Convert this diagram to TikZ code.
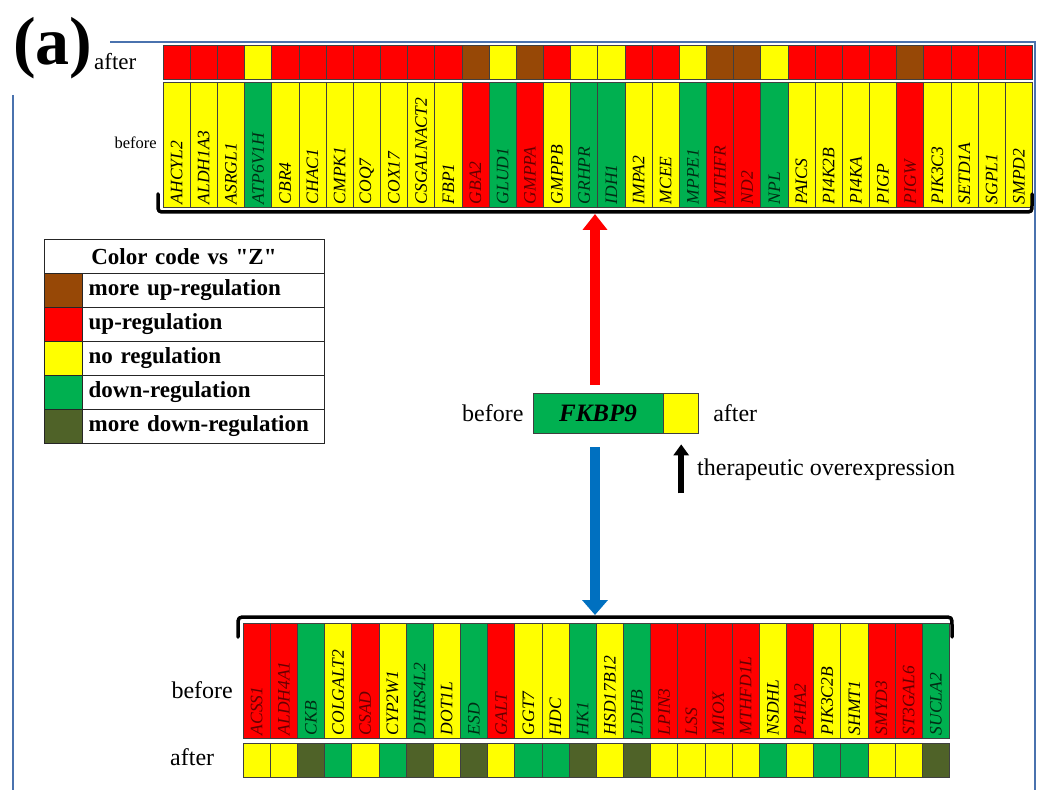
\documentclass[tikz,border=0pt]{standalone}
\usepackage{fontspec}
\setmainfont{Liberation Serif}
\usetikzlibrary{arrows.meta, positioning}
\definecolor{upred}{HTML}{FF0000}
\definecolor{moreupbrown}{HTML}{974806}
\definecolor{noyellow}{HTML}{FFFF00}
\definecolor{downgreen}{HTML}{00B050}
\definecolor{moredownolive}{HTML}{4F6228}
\definecolor{frameblue}{HTML}{4A72AE}
\definecolor{arrowblue}{HTML}{0070C0}

\begin{document}
\begin{tikzpicture}[x=1pt, y=-1pt,
            cell/.style = {rectangle, draw=black!75, line width=0.7pt, minimum width=27.17pt, inner sep=0pt},
            beforetop/.style = {cell, minimum height=125pt},
            beforebot/.style = {cell, minimum height=115pt},
            aftercell/.style = {cell, minimum height=34pt},
            moreupreg/.style = {fill=moreupbrown, text=moreupbrown!50!black},
            upreg/.style = {fill=upred, text=upred!40!black},
            noreg/.style = {fill=noyellow, text=black},
            downreg/.style = {fill=downgreen, text=downgreen!25!black},
            moredownreg/.style = {fill=moredownolive, text=black},
            gene/.style = {rotate=90, anchor=west, inner sep=0pt, font=\fontsize{17.5}{17.5}\selectfont\itshape},
            plain/.style = {inner sep=0pt, font=\fontsize{24}{24}\selectfont},
            swatch/.style = {cell, draw=black!85, minimum width=38pt, minimum height=34pt},
            legendtext/.style = {rectangle, draw=black!85, line width=0.7pt, minimum width=242pt, minimum height=34pt,
                inner sep=6pt, text width=230pt, align=left, font=\bfseries\fontsize{23}{23}\selectfont},
            bracket/.style = {line width=3.5pt, line cap=round, line join=round},
            frameline/.style = {draw=frameblue, line width=2.5pt},
            ]
            % frame
            \draw[frameline] (110,42) -- (1035,42) -- (1035,790);
            \draw[frameline] (13,95) -- (13,790);
            \useasboundingbox (0,0) rectangle (1042,778);

            \node[anchor=base west, inner sep=0pt, font=\bfseries\fontsize{68}{68}\selectfont] (panel) at (13,65) {(a)};
            \node[plain, anchor=base west, font=\fontsize{23}{23}\selectfont] (topafter) at (94,70) {after};
            \node[plain, anchor=east, font=\fontsize{16.5}{16.5}\selectfont] (topbefore) at (157,143) {before};

            % genes above FKBP9
            \foreach \g/\b/\a [count=\i] in {AHCYL2/noreg/upreg, ALDH1A3/noreg/upreg, ASRGL1/noreg/upreg,
                ATP6V1H/downreg/noreg, CBR4/noreg/upreg, CHAC1/noreg/upreg, CMPK1/noreg/upreg, COQ7/noreg/upreg,
                COX17/noreg/upreg, CSGALNACT2/noreg/upreg, FBP1/noreg/upreg, GBA2/upreg/moreupreg,
                GLUD1/downreg/noreg, GMPPA/upreg/moreupreg, GMPPB/noreg/upreg, GRHPR/downreg/noreg,
                IDH1/downreg/noreg, IMPA2/noreg/upreg, MCEE/noreg/upreg, MPPE1/downreg/noreg,
                MTHFR/upreg/moreupreg, ND2/upreg/moreupreg, NPL/downreg/noreg, PAICS/noreg/upreg,
                PI4K2B/noreg/upreg, PI4KA/noreg/upreg, PIGP/noreg/upreg, PIGW/upreg/moreupreg,
                PIK3C3/noreg/upreg, SETD1A/noreg/upreg, SGPL1/noreg/upreg, SMPD2/noreg/upreg} {
                \node[beforetop, \b] (tb\i) at ({163+(\i-0.5)*27.17}, 144.5) {};
                \node[aftercell, \a] (ta\i) at ({163+(\i-0.5)*27.17}, 62) {};
                \node[gene, \b, fill=none] (tg\i) at ([yshift=3pt]tb\i.south) {\g};
            }

            % genes below FKBP9
            \foreach \g/\b/\a [count=\i] in {ACSS1/upreg/noreg, ALDH4A1/upreg/noreg, CKB/downreg/moredownreg,
                COLGALT2/noreg/downreg, CSAD/upreg/noreg, CYP2W1/noreg/downreg, DHRS4L2/downreg/moredownreg,
                DOT1L/noreg/noreg, ESD/downreg/moredownreg, GALT/upreg/noreg, GGT7/noreg/downreg,
                HDC/noreg/downreg, HK1/downreg/moredownreg, HSD17B12/noreg/noreg, LDHB/downreg/moredownreg,
                LPIN3/upreg/noreg, LSS/upreg/noreg, MIOX/upreg/noreg, MTHFD1L/upreg/noreg, NSDHL/noreg/downreg,
                P4HA2/upreg/noreg, PIK3C2B/noreg/downreg, SHMT1/noreg/downreg, SMYD3/upreg/noreg,
                ST3GAL6/upreg/noreg, SUCLA2/downreg/moredownreg} {
                \node[beforebot, \b] (bb\i) at ({243+(\i-0.5)*27.17}, 680.5) {};
                \node[aftercell, \a] (ba\i) at ({243+(\i-0.5)*27.17}, 760) {};
                \node[gene, \b, fill=none] (bg\i) at ([yshift=3pt]bb\i.south) {\g};
            }
            \node[plain, anchor=east] (botbefore) at (233,690) {before};
            \node[plain, anchor=west] (botafter) at (170,757) {after};

            % brackets
            \draw[bracket] (158,194) -- (158,204) .. controls (158,212) .. (166,212) -- (1024,212)
                .. controls (1032,212) .. (1032,204) -- (1032,194);
            \draw[bracket] (238,637) -- (238,626) .. controls (238,617) .. (247,617) -- (943,617)
                .. controls (952,617) .. (952,626) -- (952,637);
            \coordinate (topbr) at (595,214);
            \coordinate (botbr) at (595,615);

            % legend
            \node[legendtext, minimum width=280pt, text width=268pt, align=center] (lhead) at (184,256.5) {Color code vs \textquotedbl Z\textquotedbl};
            \node[swatch, moreupreg] (ls1) at (63,290) {};
            \node[swatch, upreg] (ls2) at (63,324) {};
            \node[swatch, noreg] (ls3) at (63,358) {};
            \node[swatch, downreg] (ls4) at (63,392) {};
            \node[swatch, moredownreg] (ls5) at (63,426) {};
            \node[legendtext, right=0pt of ls1] (lt1) {more up-regulation};
            \node[legendtext, right=0pt of ls2] (lt2) {up-regulation};
            \node[legendtext, right=0pt of ls3] (lt3) {no regulation};
            \node[legendtext, right=0pt of ls4] (lt4) {down-regulation};
            \node[legendtext, right=0pt of ls5] (lt5) {more down-regulation};

            % FKBP9
            \node[cell, downreg, text=black, minimum width=130pt, minimum height=40pt,
                font=\bfseries\itshape\fontsize{25}{25}\selectfont] (fkbp) at (598,413) {FKBP9};
            \node[cell, noreg, minimum width=35pt, minimum height=40pt, right=0pt of fkbp] (fkbpafter) {};
            \node[plain, left=9pt of fkbp] (fkbpbefore) {before};
            \node[plain, right=14pt of fkbpafter] (fkbpafterlabel) {after};
            \coordinate (pushtail) at ([yshift=-60pt]fkbpafter.south);
            \node[plain, anchor=west] (therapy) at (697,470) {therapeutic overexpression};

            \draw[upred, line width=10pt, shorten <=8pt, -{Triangle[width=24pt, length=16pt]}] (topbr |- fkbp.north) -- (topbr);
            \draw[arrowblue, line width=10pt, shorten <=14pt, -{Triangle[width=25pt, length=15pt]}] (botbr |- fkbp.south) -- (botbr);
            \draw[black, line width=5.5pt, shorten >=11pt, -{Triangle[width=15pt, length=11pt]}] (pushtail) -- (fkbpafter.south);

        \end{tikzpicture}
\end{document}
